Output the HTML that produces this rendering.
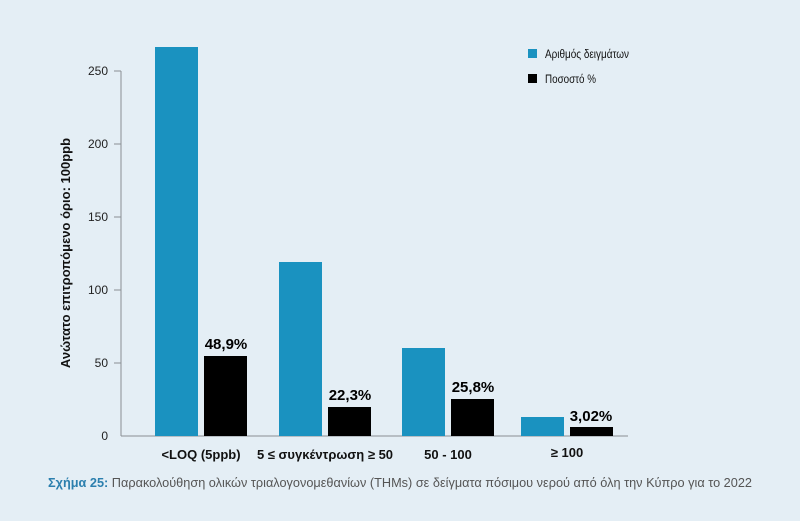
<!DOCTYPE html>
<html><head><meta charset="utf-8"><style>
html,body{margin:0;padding:0;background:#e4eef5;}
svg{display:block;}
text{font-family:"Liberation Sans Narrow","Liberation Sans",sans-serif;}
</style></head><body>
<svg width="800" height="521" viewBox="0 0 800 521" xmlns="http://www.w3.org/2000/svg">
<rect width="800" height="521" fill="#e4eef5"/>
<g stroke="#8a8f94" stroke-width="1">
<line x1="121" y1="71" x2="121" y2="436"/>
<line x1="121" y1="436" x2="628" y2="436"/>
<line x1="114" y1="71" x2="121" y2="71"/>
<line x1="114" y1="144" x2="121" y2="144"/>
<line x1="114" y1="217" x2="121" y2="217"/>
<line x1="114" y1="290" x2="121" y2="290"/>
<line x1="114" y1="363" x2="121" y2="363"/>
</g>
<g font-size="12" fill="#222" text-anchor="end">
<text x="108" y="75">250</text><text x="108" y="148">200</text><text x="108" y="221">150</text>
<text x="108" y="294">100</text><text x="108" y="367">50</text><text x="108" y="440">0</text>
</g>
<text transform="translate(70,253) rotate(-90)" font-size="13" font-weight="bold" text-anchor="middle" fill="#111">Ανώτατο επιτροπόμενο όριο: 100ppb</text>
<g fill="#1a92c0">
<rect x="155" y="47" width="43" height="389"/>
<rect x="279" y="262" width="43" height="174"/>
<rect x="402" y="348" width="43" height="88"/>
<rect x="521" y="417" width="43" height="19"/>
</g>
<g fill="#000">
<rect x="204" y="356" width="43" height="80"/>
<rect x="328" y="407" width="43" height="29"/>
<rect x="451" y="399" width="43" height="37"/>
<rect x="570" y="427" width="43" height="9"/>
</g>
<g font-size="15" font-weight="bold" fill="#000" text-anchor="middle">
<text x="226" y="349">48,9%</text><text x="350" y="400">22,3%</text>
<text x="473" y="392">25,8%</text><text x="591" y="421">3,02%</text>
</g>
<g font-size="13" font-weight="bold" fill="#111" text-anchor="middle">
<text x="201" y="459">&lt;LOQ (5ppb)</text>
<text x="325" y="459">5 ≤ συγκέντρωση ≥ 50</text>
<text x="448" y="459">50 - 100</text>
<text x="567" y="457">≥ 100</text>
</g>
<rect x="528" y="49" width="9" height="9" fill="#1a92c0"/>
<text x="545" y="58" font-size="12" fill="#111" textLength="84" lengthAdjust="spacingAndGlyphs">Αριθμός δειγμάτων</text>
<rect x="528" y="74" width="9" height="9" fill="#000"/>
<text x="545" y="83" font-size="12" fill="#111" textLength="51" lengthAdjust="spacingAndGlyphs">Ποσοστό %</text>
<text x="48" y="487" font-size="12.5" fill="#555" textLength="704" lengthAdjust="spacingAndGlyphs"><tspan font-weight="bold" fill="#2b7fae">Σχήμα 25:</tspan> Παρακολούθηση ολικών τριαλογονομεθανίων (THMs) σε δείγματα πόσιμου νερού από όλη την Κύπρο για το 2022</text>
</svg>
</body></html>
